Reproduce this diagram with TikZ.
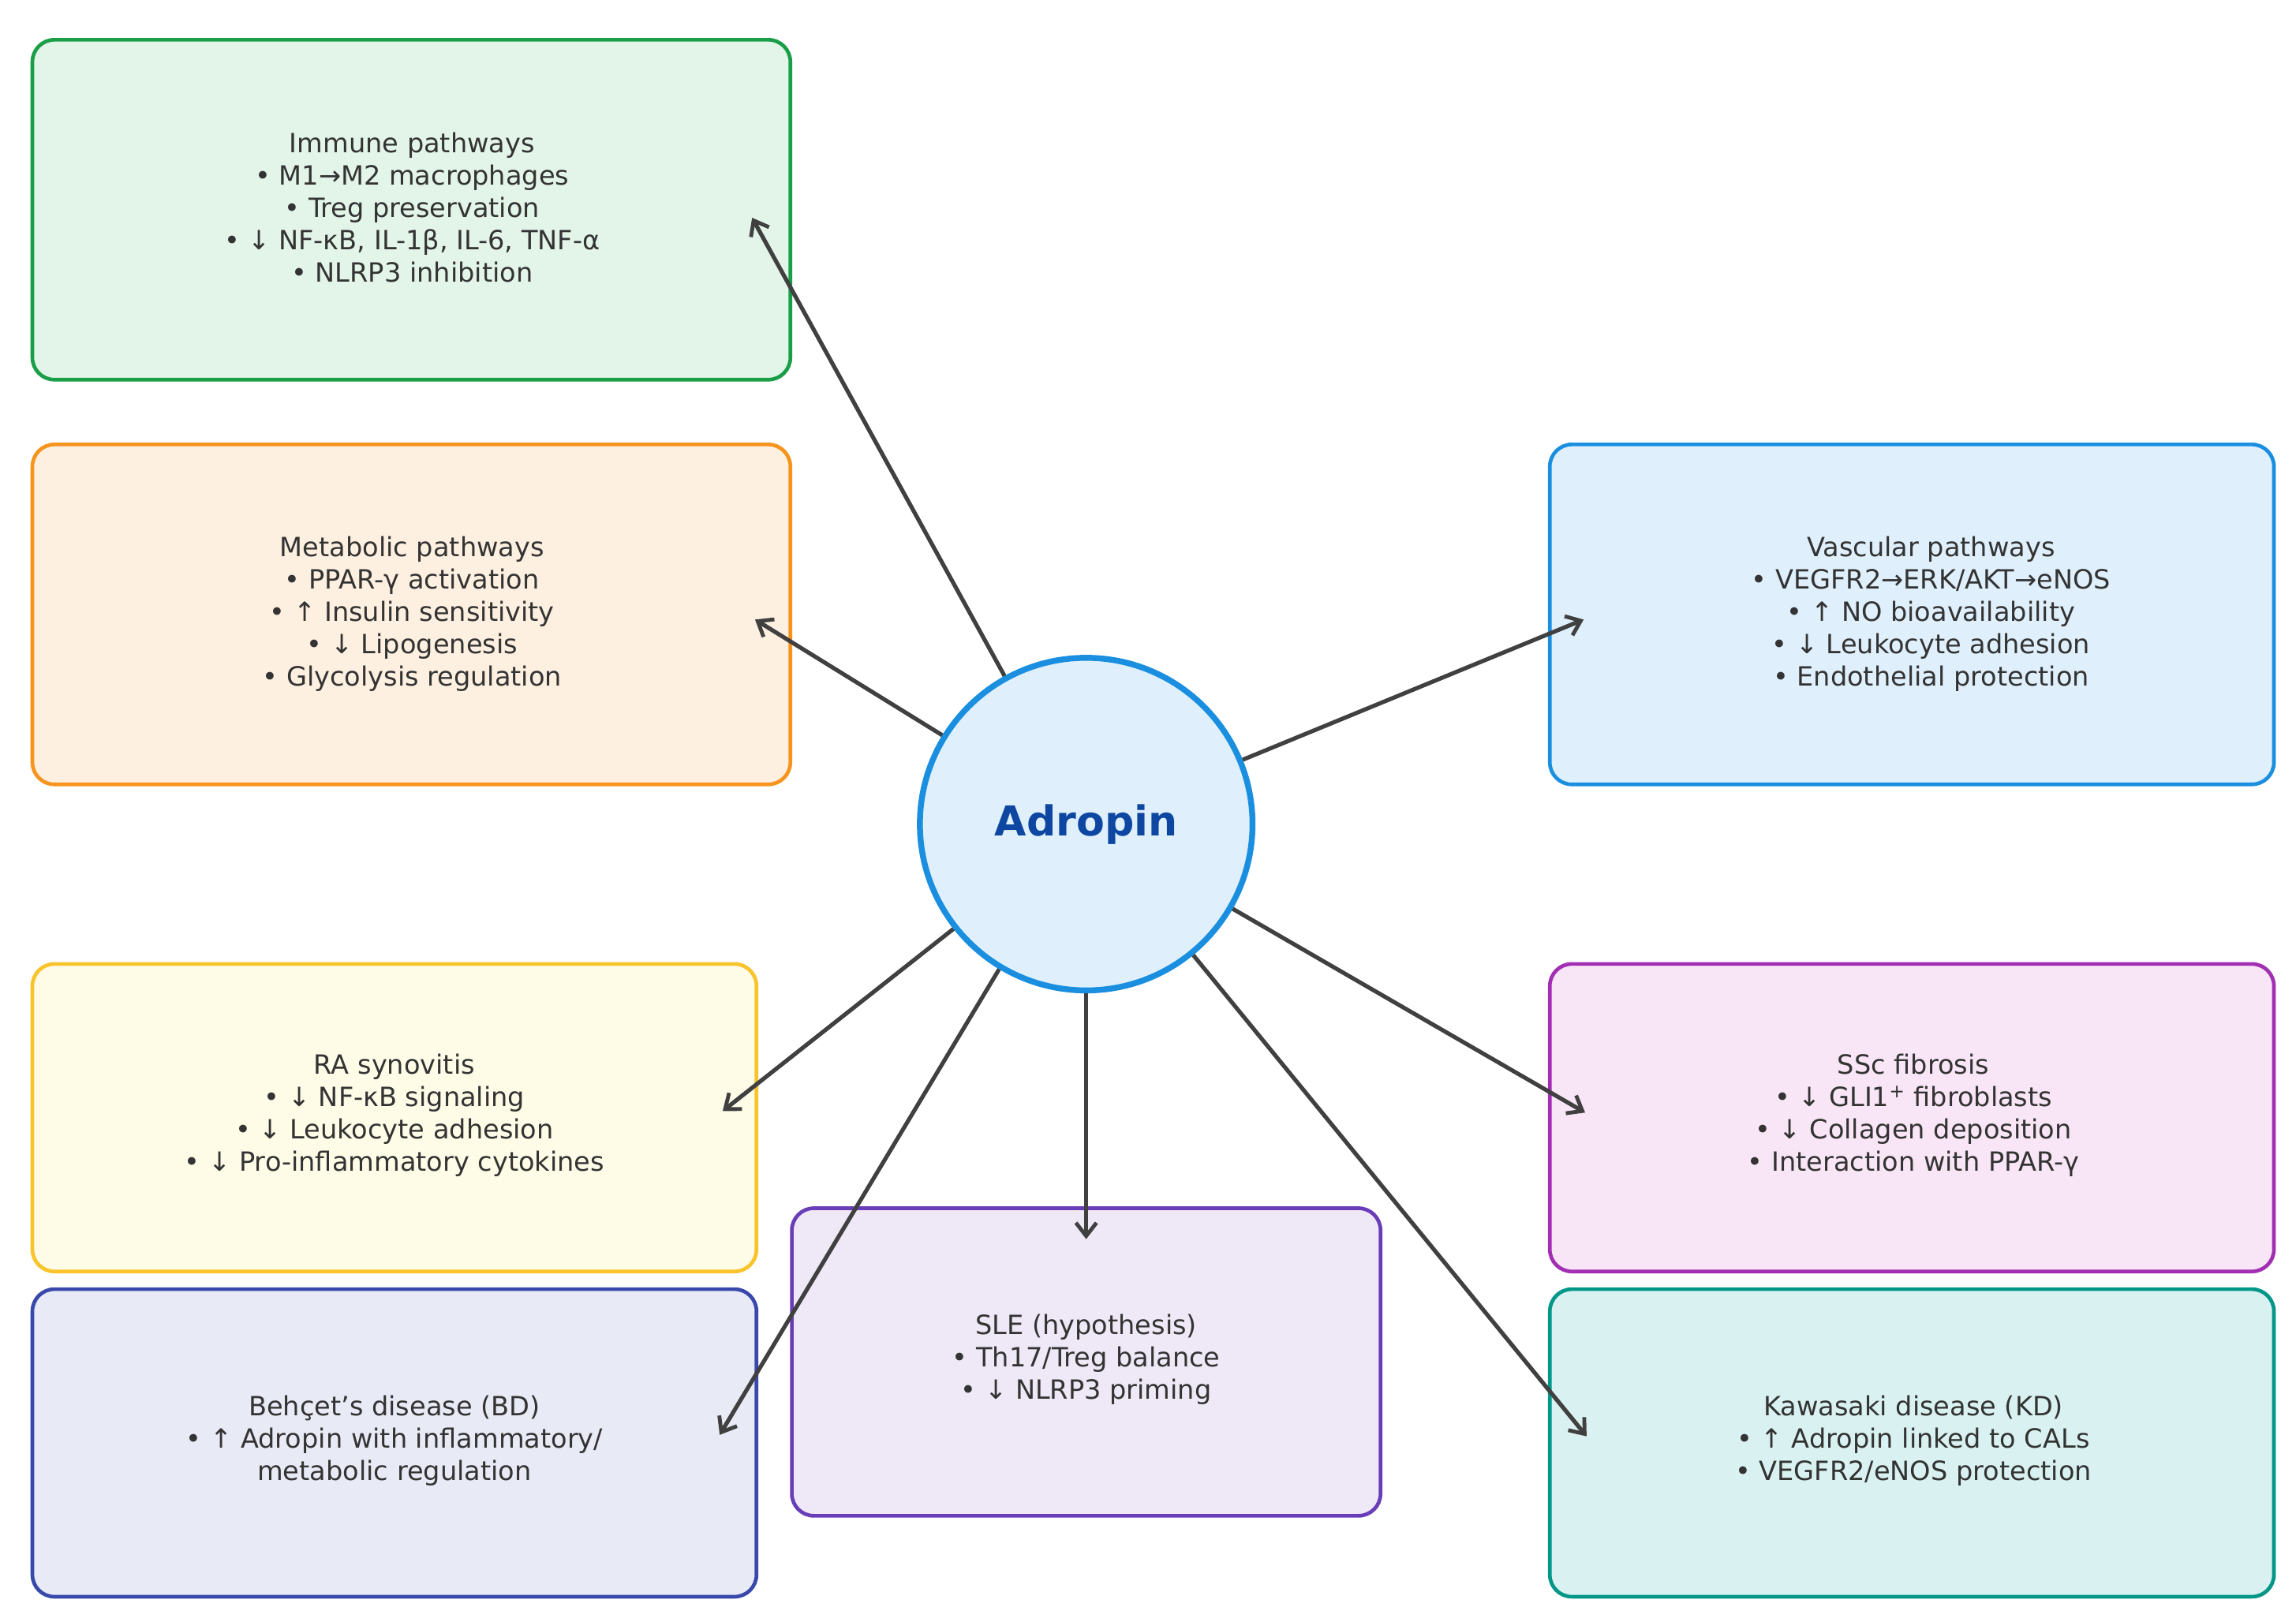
\documentclass[tikz,border=0pt]{standalone}
\usepackage{fontspec}
\setmainfont{DejaVu Sans}
\usetikzlibrary{arrows.meta}
\definecolor{ga}{HTML}{1A9E47}\definecolor{gf}{HTML}{E3F5E9}
\definecolor{oa}{HTML}{F7941D}\definecolor{of}{HTML}{FEF0E0}
\definecolor{ba}{HTML}{1A8FE0}\definecolor{bf}{HTML}{DFF0FC}
\definecolor{ya}{HTML}{F9C32B}\definecolor{yf}{HTML}{FEFBE7}
\definecolor{pa}{HTML}{A12EB3}\definecolor{pf}{HTML}{F8E6F6}
\definecolor{va}{HTML}{6A3DB8}\definecolor{vf}{HTML}{EFE8F6}
\definecolor{ia}{HTML}{3949AB}\definecolor{if}{HTML}{E8EAF6}
\definecolor{ta}{HTML}{009688}\definecolor{tf}{HTML}{D9F2F1}
\definecolor{txt}{HTML}{333333}\definecolor{arr}{HTML}{404040}
\definecolor{adr}{HTML}{0D47A1}
\begin{document}
\begin{tikzpicture}[x=1pt,y=-1pt,
  bx/.style={draw=#1a,fill=#1f,line width=2.5pt,rounded corners=15pt},
  lbl/.style={align=center,text=txt,font=\fontsize{18}{22}\selectfont},
  ar/.style={draw=arr,line width=2.8pt,-{Straight Barb[length=9pt,width=14pt,line width=2.6pt]}}]
\useasboundingbox (0,0) rectangle (1560,1102);
\fill[white] (0,0) rectangle (1560,1102);
\draw[bx=g] (22,27) rectangle (537,258);
\draw[bx=o] (22,302) rectangle (537,533);
\draw[bx=b] (1053,302) rectangle (1545,533);
\draw[bx=y] (22,655) rectangle (514,864);
\draw[bx=p] (1053,655) rectangle (1545,864);
\draw[bx=v] (538,821) rectangle (938,1030);
\draw[bx=i] (22,876) rectangle (514,1085);
\draw[bx=t] (1053,876) rectangle (1545,1085);
\node[lbl] (im) at (280,141) {Immune pathways\\• M1→M2 macrophages\\• Treg preservation\\• ↓ NF-κB, IL-1β, IL-6, TNF-α\\• NLRP3 inhibition};
\node[lbl] (me) at (280,417) {Metabolic pathways\\• PPAR-γ activation\\• ↑ Insulin sensitivity\\• ↓ Lipogenesis\\• Glycolysis regulation};
\node[lbl] (va) at (1312,417) {Vascular pathways\\• VEGFR2→ERK/AKT→eNOS\\• ↑ NO bioavailability\\• ↓ Leukocyte adhesion\\• Endothelial protection};
\node[lbl] (ra) at (268,758) {RA synovitis\\• ↓ NF-κB signaling\\• ↓ Leukocyte adhesion\\• ↓ Pro-inflammatory cytokines};
\node[lbl] (ss) at (1300,758) {SSc fibrosis\\• ↓ GLI1\textsuperscript{+} fibroblasts\\• ↓ Collagen deposition\\• Interaction with PPAR-γ};
\node[lbl] (sl) at (738,924) {SLE (hypothesis)\\• Th17/Treg balance\\• ↓ NLRP3 priming};
\node[lbl] (bd) at (268,979) {Behçet’s disease (BD)\\• ↑ Adropin with inflammatory/\\metabolic regulation};
\node[lbl] (kd) at (1300,979) {Kawasaki disease (KD)\\• ↑ Adropin linked to CALs\\• VEGFR2/eNOS protection};
\node[circle,draw=ba,fill=bf,line width=4pt,minimum size=226pt,inner sep=0pt,
  font=\fontsize{28}{32}\selectfont\bfseries,text=adr] (c) at (738,560) {Adropin};
\coordinate (e1) at (511,148); \coordinate (e2) at (513,421);
\coordinate (e3) at (1076,421); \coordinate (e4) at (491,755);
\coordinate (e5) at (1077,756); \coordinate (e6) at (738,842);
\coordinate (e7) at (489,975); \coordinate (e8) at (1078,976);
\foreach \e in {e1,e2,e3,e4,e5,e6,e7,e8} \draw[ar] (c) -- (\e);
\end{tikzpicture}
\end{document}
